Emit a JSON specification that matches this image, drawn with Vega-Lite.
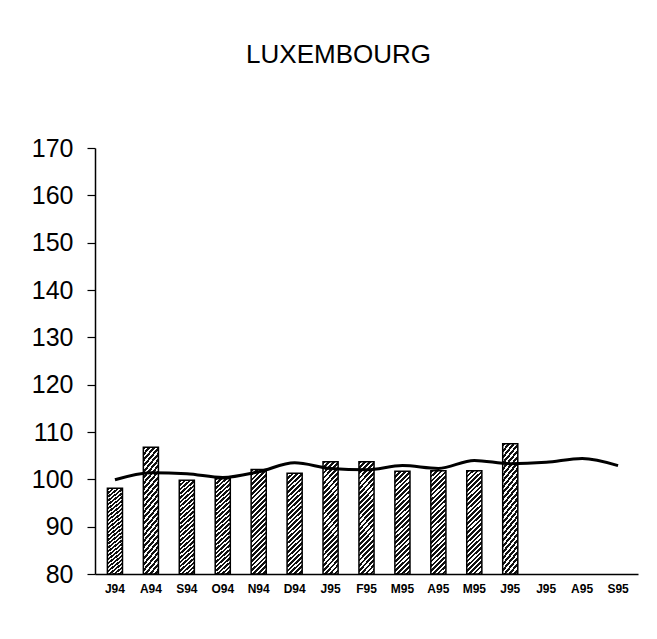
{
  "$schema": "https://vega.github.io/schema/vega-lite/v6.json",
  "width": 543,
  "height": 426,
  "autosize": "none",
  "padding": {"left": 95, "top": 148, "right": 19, "bottom": 65},
  "background": "#ffffff",
  "config": {"view": {"stroke": null}},
  "title": {
    "text": "LUXEMBOURG",
    "font": "Liberation Sans",
    "fontSize": 26,
    "fontWeight": "normal",
    "color": "#000000",
    "anchor": "middle",
    "frame": "group",
    "baseline": "alphabetic",
    "offset": 47,
    "dx": -28
  },
  "data": {
    "values": [
      {"month": "J94 Jul", "bar": 98.1, "trend": 99.9},
      {"month": "A94 Aug", "bar": 106.8, "trend": 101.4},
      {"month": "S94 Sep", "bar": 99.8, "trend": 101.2},
      {"month": "O94 Oct", "bar": 100.1, "trend": 100.4},
      {"month": "N94 Nov", "bar": 102.1, "trend": 101.6},
      {"month": "D94 Dec", "bar": 101.3, "trend": 103.5},
      {"month": "J95 Jan", "bar": 103.7, "trend": 102.3},
      {"month": "F95 Feb", "bar": 103.7, "trend": 102.0},
      {"month": "M95 Mar", "bar": 101.7, "trend": 102.9},
      {"month": "A95 Apr", "bar": 101.8, "trend": 102.3},
      {"month": "M95 May", "bar": 101.8, "trend": 104.0},
      {"month": "J95 Jun", "bar": 107.5, "trend": 103.3},
      {"month": "J95 Jul", "bar": null, "trend": 103.6},
      {"month": "A95 Aug", "bar": null, "trend": 104.4},
      {"month": "S95 Sep", "bar": null, "trend": 102.9}
    ]
  },
  "encoding": {
    "x": {
      "field": "month",
      "type": "ordinal",
      "sort": null,
      "scale": {
        "domain": ["J94 Jul", "A94 Aug", "S94 Sep", "O94 Oct", "N94 Nov", "D94 Dec", "J95 Jan", "F95 Feb", "M95 Mar", "A95 Apr", "M95 May", "J95 Jun", "J95 Jul", "A95 Aug", "S95 Sep"],
        "paddingInner": 0.58,
        "paddingOuter": 0.345
      },
      "axis": {
        "title": null,
        "labelAngle": 0,
        "ticks": false,
        "labelExpr": "substring(datum.label, 0, 3)",
        "labelFont": "Liberation Sans",
        "labelFontSize": 12,
        "labelFontWeight": "bold",
        "labelColor": "#000000",
        "labelPadding": 9,
        "domainColor": "#000000",
        "domainWidth": 1.5,
        "grid": false
      }
    }
  },
  "layer": [
    {
      "mark": {
        "type": "bar",
        "stroke": "#000000",
        "strokeWidth": 1.5,
        "fill": {
          "gradient": "linear",
          "x1": 0, "y1": 0, "x2": 0.16, "y2": 1.12,
          "stops": [
            {"offset": 0, "color": "#111111"}, {"offset": 0.022, "color": "#111111"}, {"offset": 0.022, "color": "#ffffff"}, {"offset": 0.04, "color": "#ffffff"},
            {"offset": 0.04, "color": "#111111"}, {"offset": 0.062, "color": "#111111"}, {"offset": 0.062, "color": "#ffffff"}, {"offset": 0.08, "color": "#ffffff"},
            {"offset": 0.08, "color": "#111111"}, {"offset": 0.102, "color": "#111111"}, {"offset": 0.102, "color": "#ffffff"}, {"offset": 0.12, "color": "#ffffff"},
            {"offset": 0.12, "color": "#111111"}, {"offset": 0.142, "color": "#111111"}, {"offset": 0.142, "color": "#ffffff"}, {"offset": 0.16, "color": "#ffffff"},
            {"offset": 0.16, "color": "#111111"}, {"offset": 0.182, "color": "#111111"}, {"offset": 0.182, "color": "#ffffff"}, {"offset": 0.2, "color": "#ffffff"},
            {"offset": 0.2, "color": "#111111"}, {"offset": 0.222, "color": "#111111"}, {"offset": 0.222, "color": "#ffffff"}, {"offset": 0.24, "color": "#ffffff"},
            {"offset": 0.24, "color": "#111111"}, {"offset": 0.262, "color": "#111111"}, {"offset": 0.262, "color": "#ffffff"}, {"offset": 0.28, "color": "#ffffff"},
            {"offset": 0.28, "color": "#111111"}, {"offset": 0.302, "color": "#111111"}, {"offset": 0.302, "color": "#ffffff"}, {"offset": 0.32, "color": "#ffffff"},
            {"offset": 0.32, "color": "#111111"}, {"offset": 0.342, "color": "#111111"}, {"offset": 0.342, "color": "#ffffff"}, {"offset": 0.36, "color": "#ffffff"},
            {"offset": 0.36, "color": "#111111"}, {"offset": 0.382, "color": "#111111"}, {"offset": 0.382, "color": "#ffffff"}, {"offset": 0.4, "color": "#ffffff"},
            {"offset": 0.4, "color": "#111111"}, {"offset": 0.422, "color": "#111111"}, {"offset": 0.422, "color": "#ffffff"}, {"offset": 0.44, "color": "#ffffff"},
            {"offset": 0.44, "color": "#111111"}, {"offset": 0.462, "color": "#111111"}, {"offset": 0.462, "color": "#ffffff"}, {"offset": 0.48, "color": "#ffffff"},
            {"offset": 0.48, "color": "#111111"}, {"offset": 0.502, "color": "#111111"}, {"offset": 0.502, "color": "#ffffff"}, {"offset": 0.52, "color": "#ffffff"},
            {"offset": 0.52, "color": "#111111"}, {"offset": 0.542, "color": "#111111"}, {"offset": 0.542, "color": "#ffffff"}, {"offset": 0.56, "color": "#ffffff"},
            {"offset": 0.56, "color": "#111111"}, {"offset": 0.582, "color": "#111111"}, {"offset": 0.582, "color": "#ffffff"}, {"offset": 0.6, "color": "#ffffff"},
            {"offset": 0.6, "color": "#111111"}, {"offset": 0.622, "color": "#111111"}, {"offset": 0.622, "color": "#ffffff"}, {"offset": 0.64, "color": "#ffffff"},
            {"offset": 0.64, "color": "#111111"}, {"offset": 0.662, "color": "#111111"}, {"offset": 0.662, "color": "#ffffff"}, {"offset": 0.68, "color": "#ffffff"},
            {"offset": 0.68, "color": "#111111"}, {"offset": 0.702, "color": "#111111"}, {"offset": 0.702, "color": "#ffffff"}, {"offset": 0.72, "color": "#ffffff"},
            {"offset": 0.72, "color": "#111111"}, {"offset": 0.742, "color": "#111111"}, {"offset": 0.742, "color": "#ffffff"}, {"offset": 0.76, "color": "#ffffff"},
            {"offset": 0.76, "color": "#111111"}, {"offset": 0.782, "color": "#111111"}, {"offset": 0.782, "color": "#ffffff"}, {"offset": 0.8, "color": "#ffffff"},
            {"offset": 0.8, "color": "#111111"}, {"offset": 0.822, "color": "#111111"}, {"offset": 0.822, "color": "#ffffff"}, {"offset": 0.84, "color": "#ffffff"},
            {"offset": 0.84, "color": "#111111"}, {"offset": 0.862, "color": "#111111"}, {"offset": 0.862, "color": "#ffffff"}, {"offset": 0.88, "color": "#ffffff"},
            {"offset": 0.88, "color": "#111111"}, {"offset": 0.902, "color": "#111111"}, {"offset": 0.902, "color": "#ffffff"}, {"offset": 0.92, "color": "#ffffff"},
            {"offset": 0.92, "color": "#111111"}, {"offset": 0.942, "color": "#111111"}, {"offset": 0.942, "color": "#ffffff"}, {"offset": 0.96, "color": "#ffffff"},
            {"offset": 0.96, "color": "#111111"}, {"offset": 0.982, "color": "#111111"}, {"offset": 0.982, "color": "#ffffff"}, {"offset": 1, "color": "#ffffff"}
          ]
        }
      },
      "encoding": {
        "y": {
          "field": "bar",
          "type": "quantitative",
          "scale": {"domain": [80, 170], "nice": false, "zero": false},
          "axis": {
            "title": null,
            "values": [80, 90, 100, 110, 120, 130, 140, 150, 160, 170],
            "grid": false,
            "tickSize": 8,
            "tickWidth": 1.2,
            "tickColor": "#000000",
            "domainColor": "#000000",
            "domainWidth": 1.5,
            "labelFont": "Liberation Sans",
            "labelFontSize": 25,
            "labelColor": "#000000",
            "labelPadding": 14
          }
        },
        "y2": {"datum": 80}
      }
    },
    {
      "mark": {"type": "line", "interpolate": "monotone", "color": "#000000", "strokeWidth": 3},
      "encoding": {
        "y": {"field": "trend", "type": "quantitative"}
      }
    }
  ]
}
